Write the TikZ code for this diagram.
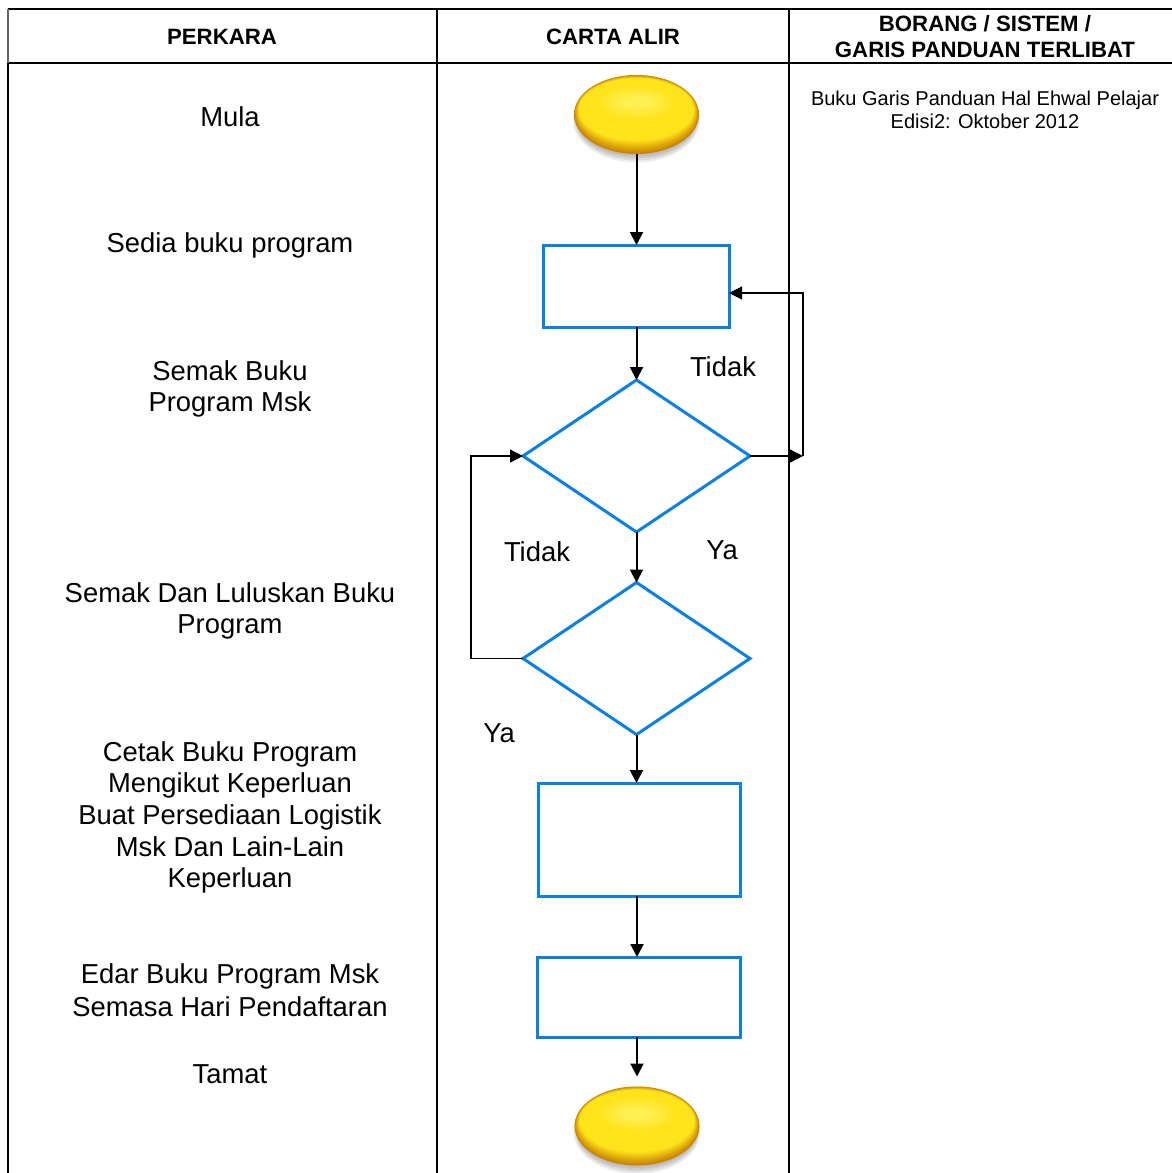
\documentclass[tikz,border=0pt]{standalone}
\usepackage{fontspec}
\setmainfont{Liberation Sans}
\usetikzlibrary{shapes.geometric,arrows.meta}

\definecolor{flowblue}{HTML}{0A80E6}
\definecolor{bulbHi}{HTML}{FFF15A}
\definecolor{bulbA}{HTML}{FFE41C}
\definecolor{bulbC}{HTML}{C98200}

% glossy yellow terminator: stacked ellipses fading from an amber rim to a bright core
\newcommand{\bulbfill}[2]{%
  \foreach \g in {0,2,4,6}{
    \fill[black,opacity=0.07] (#1,#2+5) ellipse ({60+\g*0.6} and {37+\g});
  }
  \foreach \i in {0,...,14}{
    \pgfmathsetmacro{\mix}{min(100,\i*9)}
    \fill[bulbA!\mix!bulbC] (#1,#2-\i*0.45) ellipse ({62.5-\i*0.45} and {39.5-\i*0.75});
  }
  \fill[bulbA] (#1,#2-8) ellipse (52 and 27);
  \foreach \i in {0,...,6}{
    \pgfmathsetmacro{\mix}{\i*14}
    \fill[bulbHi!\mix!bulbA] (#1,#2-12) ellipse ({40-\i*4} and {18-\i*2});
  }
}

\begin{document}
\begin{tikzpicture}[x=0.5pt,y=-0.5pt,
  grid/.style={line width=1pt,black},
  thingrid/.style={line width=0.6pt,black},
  head/.style={font=\fontsize{11.1}{13}\selectfont\bfseries,anchor=base,inner sep=0pt},
  body/.style={font=\fontsize{13.7}{16}\selectfont,anchor=base,inner sep=0pt},
  note/.style={font=\fontsize{10}{12}\selectfont,anchor=base,inner sep=0pt},
  procbox/.style={rectangle,draw=flowblue,line width=1.5pt,fill=white,inner sep=0pt,outer sep=0pt},
  decide/.style={diamond,draw=flowblue,line width=1.5pt,fill=white,inner sep=0pt,outer sep=0pt,
     minimum width=113.5pt,minimum height=76pt},
  term/.style={ellipse,minimum width=62.5pt,minimum height=39.5pt,inner sep=0pt,outer sep=0pt},
  conn/.style={-{Triangle[length=6.5pt,width=6.5pt]},line width=1pt},
  looparrow/.style={-{Triangle[length=6.5pt,width=6.5pt]},line width=0.6pt}
]
\useasboundingbox (0,0) rectangle (1172,1173);

% ---- table frame ----
\draw[grid] (8,9) -- (1172,9);
\draw[grid] (8,63) -- (1172,63);
\draw[line width=1pt,black!60] (8,9) -- (8,63);
\draw[grid] (8,63) -- (8,1173);
\draw[grid] (437,9) -- (437,1173);
\draw[thingrid] (789,9) -- (789,1173);

% ---- header ----
\node[head] (h1) at (222,44) {PERKARA};
\node[head] (h2) at (613,44) {CARTA ALIR};
\node[head] (h3a) at (985,31) {BORANG / SISTEM /};
\node[head] (h3b) at (985,57) {GARIS PANDUAN TERLIBAT};

% ---- reference column ----
\node[note] (r1) at (985,105) {Buku Garis Panduan Hal Ehwal Pelajar};
\node[note] (r2) at (985,128) {Edisi2: Oktober 2012};

% ---- activity column ----
\node[body] (p1) at (230,126) {Mula};
\node[body] (p2) at (230,252) {Sedia buku program};
\node[body] (p3a) at (230,380) {Semak Buku};
\node[body] (p3b) at (230,411) {Program Msk};
\node[body] (p4a) at (230,602) {Semak Dan Luluskan Buku};
\node[body] (p4b) at (230,633) {Program};
\node[body] (p5a) at (230,761) {Cetak Buku Program};
\node[body] (p5b) at (230,792) {Mengikut Keperluan};
\node[body] (p5c) at (230,824) {Buat Persediaan Logistik};
\node[body] (p5d) at (230,856) {Msk Dan Lain-Lain};
\node[body] (p5e) at (230,887) {Keperluan};
\node[body] (p6a) at (230,983) {Edar Buku Program Msk};
\node[body] (p6b) at (230,1016) {Semasa Hari Pendaftaran};
\node[body] (p7) at (230,1083) {Tamat};

% ---- flowchart ----
\bulbfill{636.5}{114.5}
\bulbfill{637}{1126}
\node[term] (start) at (636.5,114.5) {};
\node[procbox,minimum width=93pt,minimum height=41pt] (b1) at (636,286) {};
\node[decide] (d1) at (636.5,456) {};
\node[decide] (d2) at (636.5,658.5) {};
\node[procbox,minimum width=101pt,minimum height=56.5pt] (b2) at (639,839.5) {};
\node[procbox,minimum width=101.5pt,minimum height=40pt] (b3) at (638.5,997) {};
\node[term] (stop) at (637,1126) {};

\draw[conn] (start) -- (start |- b1.north);
\draw[conn] (b1.south -| d1.north) -- (d1.north);
\draw[conn] (d1) -- (d2);
\draw[conn] (d2.south) -- (d2.south |- b2.north);
\draw[conn] (b2.south -| stop.north) -- (stop.north |- b3.north);
\draw[conn,shorten >=5pt] (b3.south -| stop.north) -- (stop.north);

% "Tidak" return from the first check
\coordinate (rloopA) at (803,456);
\coordinate (rloopB) at (803,293);
\draw[looparrow] (d1.east) -- (rloopA);
\draw[looparrow] (rloopA) -- (rloopB) -- (b1.east |- rloopB);

% "Tidak" return from the second check
\coordinate (lloopA) at (471,658.5);
\coordinate (lloopB) at (471,456);
\draw[looparrow] (d2.west) -- (lloopA) -- (lloopB) -- (d1.west);

% branch labels
\node[body] (l1) at (723,376) {Tidak};
\node[body] (l2) at (537,561) {Tidak};
\node[body] (l3) at (722,559) {Ya};
\node[body] (l4) at (499,742) {Ya};
\end{tikzpicture}
\end{document}
